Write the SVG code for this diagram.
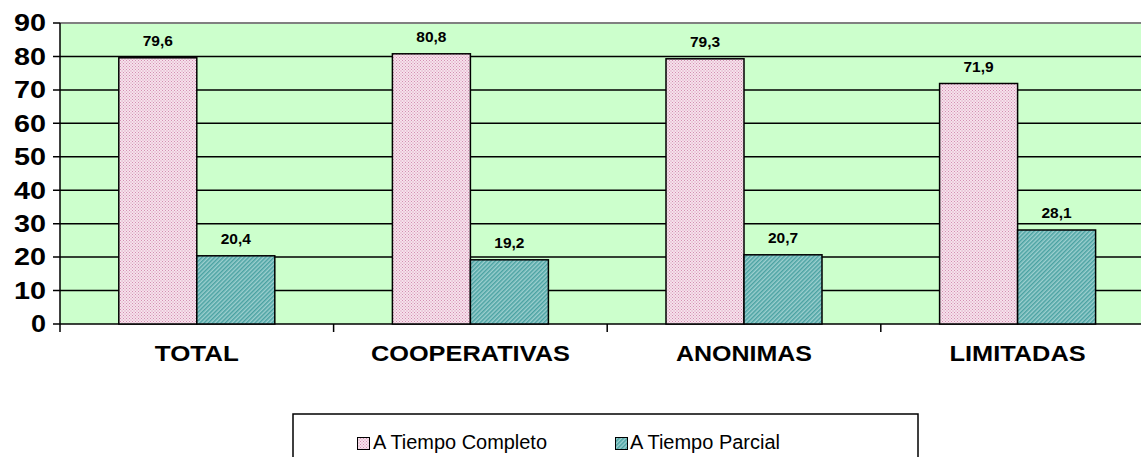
<svg xmlns="http://www.w3.org/2000/svg" width="1141" height="457" viewBox="0 0 1141 457">
<defs>
<pattern id="pinkPat" width="3" height="3" patternUnits="userSpaceOnUse">
<rect width="3" height="3" fill="#f6e2ec"/>
<rect width="1" height="1" fill="#d48fb2"/>
<rect x="1.5" y="1.5" width="1" height="1" fill="#d48fb2"/>
</pattern>
<pattern id="tealPat" width="3" height="3" patternUnits="userSpaceOnUse" patternTransform="rotate(45)">
<rect width="3" height="3" fill="#9ccfcf"/>
<rect width="1.5" height="3" fill="#4aa2a2"/>
</pattern>
<style>
.grid{stroke:#000;stroke-width:1.5}
.axis{stroke:#000;stroke-width:1.5;fill:none}
.bar{stroke:#000;stroke-width:1.5}
.pink{fill:url(#pinkPat)}
.teal{fill:url(#tealPat)}
.ylab{font-family:"Liberation Sans",Arial,sans-serif;font-weight:bold;font-size:23px;text-anchor:end;fill:#000}
.val{font-family:"Liberation Sans",Arial,sans-serif;font-weight:bold;font-size:15.5px;text-anchor:middle;fill:#000}
.cat{font-family:"Liberation Sans",Arial,sans-serif;font-weight:bold;font-size:22px;text-anchor:middle;fill:#000}
.leg{font-family:"Liberation Sans",Arial,sans-serif;font-size:20px;fill:#000}
</style>
</defs>
<rect width="1141" height="457" fill="#fff"/>
<g id="plot-area">
<rect x="60" y="23" width="1100" height="301" fill="#ccffcc"/>
<line x1="60" y1="23" x2="1141" y2="23" stroke="#808080" stroke-width="2"/>
</g>
<g id="gridlines">
<line class="grid" x1="53" y1="56.4" x2="1141" y2="56.4"/>
<line class="grid" x1="53" y1="89.9" x2="1141" y2="89.9"/>
<line class="grid" x1="53" y1="123.3" x2="1141" y2="123.3"/>
<line class="grid" x1="53" y1="156.8" x2="1141" y2="156.8"/>
<line class="grid" x1="53" y1="190.2" x2="1141" y2="190.2"/>
<line class="grid" x1="53" y1="223.7" x2="1141" y2="223.7"/>
<line class="grid" x1="53" y1="257.1" x2="1141" y2="257.1"/>
<line class="grid" x1="53" y1="290.6" x2="1141" y2="290.6"/>
<line class="grid" x1="53" y1="23" x2="60" y2="23"/>
</g>
<g id="axes">
<line class="axis" x1="60" y1="23" x2="60" y2="332"/>
<line class="axis" x1="53" y1="324" x2="1141" y2="324"/>
<line class="axis" x1="333.6" y1="324" x2="333.6" y2="332"/>
<line class="axis" x1="607.2" y1="324" x2="607.2" y2="332"/>
<line class="axis" x1="880.8" y1="324" x2="880.8" y2="332"/>
</g>
<g id="y-labels">
<text class="ylab" x="46" y="31.3" textLength="32" lengthAdjust="spacingAndGlyphs">90</text>
<text class="ylab" x="46" y="64.7" textLength="32" lengthAdjust="spacingAndGlyphs">80</text>
<text class="ylab" x="46" y="98.2" textLength="32" lengthAdjust="spacingAndGlyphs">70</text>
<text class="ylab" x="46" y="131.6" textLength="32" lengthAdjust="spacingAndGlyphs">60</text>
<text class="ylab" x="46" y="165.1" textLength="32" lengthAdjust="spacingAndGlyphs">50</text>
<text class="ylab" x="46" y="198.5" textLength="32" lengthAdjust="spacingAndGlyphs">40</text>
<text class="ylab" x="46" y="232" textLength="32" lengthAdjust="spacingAndGlyphs">30</text>
<text class="ylab" x="46" y="265.4" textLength="32" lengthAdjust="spacingAndGlyphs">20</text>
<text class="ylab" x="46" y="298.9" textLength="32" lengthAdjust="spacingAndGlyphs">10</text>
<text class="ylab" x="46" y="332.3" textLength="15" lengthAdjust="spacingAndGlyphs">0</text>
</g>
<g id="series-completo">
<rect class="bar pink" x="118.8" y="57.8" width="78" height="266.2"/>
<rect class="bar pink" x="392.4" y="53.8" width="78" height="270.2"/>
<rect class="bar pink" x="666" y="58.8" width="78" height="265.2"/>
<rect class="bar pink" x="939.6" y="83.5" width="78" height="240.5"/>
</g>
<g id="series-parcial">
<rect class="bar teal" x="196.8" y="255.8" width="78" height="68.2"/>
<rect class="bar teal" x="470.4" y="259.8" width="78" height="64.2"/>
<rect class="bar teal" x="744" y="254.8" width="78" height="69.2"/>
<rect class="bar teal" x="1017.6" y="230" width="78" height="94"/>
</g>
<g id="value-labels">
<text class="val" x="157.8" y="46">79,6</text>
<text class="val" x="235.8" y="244">20,4</text>
<text class="val" x="431.4" y="42">80,8</text>
<text class="val" x="509.4" y="248">19,2</text>
<text class="val" x="705" y="47">79,3</text>
<text class="val" x="783" y="243">20,7</text>
<text class="val" x="978.6" y="71.5">71,9</text>
<text class="val" x="1056.6" y="218">28,1</text>
</g>
<g id="category-labels">
<text class="cat" x="196.8" y="361" textLength="84" lengthAdjust="spacingAndGlyphs">TOTAL</text>
<text class="cat" x="470.4" y="361" textLength="199" lengthAdjust="spacingAndGlyphs">COOPERATIVAS</text>
<text class="cat" x="744" y="361" textLength="136" lengthAdjust="spacingAndGlyphs">ANONIMAS</text>
<text class="cat" x="1017.6" y="361" textLength="136" lengthAdjust="spacingAndGlyphs">LIMITADAS</text>
</g>
<g id="legend">
<rect x="293" y="414" width="625" height="60" fill="#fff" stroke="#000" stroke-width="1.5"/>
<rect class="pink" x="357.5" y="437.5" width="12" height="12" stroke="#000" stroke-width="1"/>
<text class="leg" x="373" y="449" textLength="174" lengthAdjust="spacingAndGlyphs">A Tiempo Completo</text>
<rect class="teal" x="615.5" y="437.5" width="12" height="12" stroke="#000" stroke-width="1"/>
<text class="leg" x="630" y="449" textLength="150" lengthAdjust="spacingAndGlyphs">A Tiempo Parcial</text>
</g>
</svg>
